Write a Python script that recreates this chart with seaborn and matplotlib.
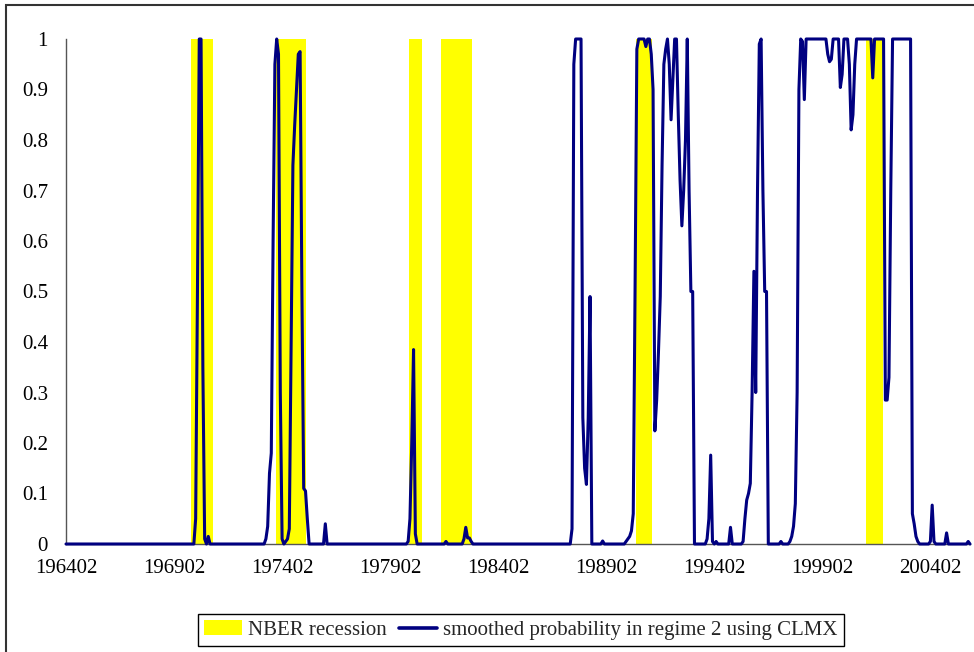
import numpy as np
import pandas as pd
import matplotlib
matplotlib.use("Agg")
import matplotlib.pyplot as plt
import seaborn as sns
from matplotlib.patches import Patch, Rectangle
from matplotlib.lines import Line2D

# ---------------- data ----------------
first_month = "1964-02"
last_month = "2005-12"

# NBER recession months (peak .. trough), drawn as full-height columns
recessions = [("1969-12", "1970-11"), ("1973-11", "1975-03"), ("1980-01", "1980-07"),
              ("1981-07", "1982-11"), ("1990-07", "1991-03"), ("2001-03", "2001-11")]

# smoothed probability of regime 2: months not listed are 0
ep_1970 = ("1970-02", [0.05, 0.5, 1.0, 1.0, 0.35, 0.01, 0.0, 0.015])
ep_1973 = ("1973-05", [0.01, 0.035, 0.14, 0.18, 0.6, 0.95, 1.0, 0.97, 0.3, 0.01, 0.0, 0.005,
                       0.01, 0.03, 0.4, 0.75, 0.83, 0.9, 0.97, 0.975, 0.5, 0.11, 0.105, 0.05])
ep_1976 = ("1976-02", [0.04])
ep_1979 = ("1979-12", [0.005, 0.05, 0.2, 0.385, 0.02])
ep_1981 = ("1981-09", [0.005])
ep_1982 = ("1982-07", [0.01, 0.033, 0.012, 0.012, 0.005])
ep_1987 = ("1987-07", [0.03, 0.95, 1.0, 1.0, 1.0, 1.0, 0.25, 0.15, 0.118, 0.25, 0.49])
ep_1988 = ("1988-12", [0.006])
ep_1990 = ("1990-01", [0.005, 0.01, 0.015, 0.026, 0.06, 0.5, 0.98, 1.0, 1.0, 1.0, 1.0, 0.985,
                       1.0, 1.0, 0.97, 0.9, 0.224, 0.285, 0.38, 0.49, 0.75, 0.95, 0.98, 1.0,
                       0.95, 0.84, 0.92, 1.0, 1.0, 0.85, 0.72, 0.63, 0.7, 0.8, 1.0, 0.7, 0.5, 0.5])
ep_1993 = ("1993-10", [0.01, 0.05, 0.176, 0.005])
ep_1994 = ("1994-03", [0.005])
ep_1994b = ("1994-11", [0.033])
ep_1995 = ("1995-06", [0.005, 0.05, 0.087, 0.1, 0.12, 0.3, 0.54, 0.3, 0.7, 0.99, 1.0, 0.7, 0.5, 0.5])
ep_1997 = ("1997-03", [0.005])
ep_1997b = ("1997-08", [0.005, 0.015, 0.035, 0.08, 0.3, 0.9, 1.0, 0.995, 0.88, 1.0,
                        1.0, 1.0, 1.0, 1.0, 1.0, 1.0, 1.0, 1.0, 1.0, 1.0, 1.0,
                        0.97, 0.955, 0.96, 1.0, 1.0, 1.0, 1.0, 0.904, 0.93, 1.0, 1.0, 1.0,
                        0.95, 0.82, 0.85, 0.95, 1.0, 1.0, 1.0, 1.0, 1.0, 1.0, 1.0, 1.0, 1.0,
                        0.923, 1.0, 1.0, 1.0, 1.0, 1.0, 1.0, 0.285, 0.285, 0.33, 0.7,
                        1.0, 1.0, 1.0, 1.0, 1.0, 1.0, 1.0, 1.0, 1.0, 1.0, 1.0,
                        0.06, 0.04, 0.015, 0.005])
ep_2004 = ("2004-02", [0.005, 0.077, 0.005])
ep_2004b = ("2004-11", [0.022])
ep_2005 = ("2005-11", [0.005])
episodes = [ep_1970, ep_1973, ep_1976, ep_1979, ep_1981, ep_1982, ep_1987, ep_1988, ep_1990,
            ep_1993, ep_1994, ep_1994b, ep_1995, ep_1997, ep_1997b, ep_2004, ep_2004b, ep_2005]

tick_every = 60  # label every 5 years

legend_labels = ["NBER recession", "smoothed probability in regime 2 using CLMX"]

# ---------------- assemble ----------------
months = pd.period_range(first_month, last_month, freq="M")
n = len(months)
start = months[0]
prob = np.zeros(n)
for m, vals in episodes:
    i = (pd.Period(m, "M") - start).n
    prob[i:i + len(vals)] = vals
nber = np.zeros(n)
for a, b in recessions:
    i = (pd.Period(a, "M") - start).n
    j = (pd.Period(b, "M") - start).n
    nber[i:j + 1] = 1.0

df = pd.DataFrame({"idx": np.arange(n), "label": months.strftime("%Y%m"),
                   "nber": nber, "prob": prob})

# ---------------- plot ----------------
sns.set_theme(style="white")
plt.rcParams["font.family"] = ["Liberation Serif", "DejaVu Serif"]

W, H = 974, 652
fig = plt.figure(figsize=(W / 100, H / 100), dpi=100)
ax = fig.add_axes([66 / W, 1 - 544 / H, (970 - 66) / W, (544 - 39) / H])

navy = "#000080"
yellow = "#FFFF00"

rec = df[df["nber"] > 0]
ax.bar(rec["idx"], rec["nber"], width=1.0, color=yellow, linewidth=0, zorder=1)
sns.lineplot(data=df, x="idx", y="prob", color=navy, linewidth=2.2, ax=ax, zorder=3)
for ln in ax.lines:
    ln.set_clip_on(False)
    ln.set_solid_joinstyle("round")

ax.set_xlim(0, n - 1)
ax.set_ylim(0, 1)
xt = df["idx"].values[::tick_every]
ax.set_xticks(xt)
ax.set_xticklabels(df["label"].values[::tick_every], fontsize=15)
yt = np.round(np.arange(0, 1.01, 0.1), 1)
ax.set_yticks(yt)
ax.set_yticklabels([f"{v:g}" for v in yt], fontsize=15)
ax.set_xlabel("")
ax.set_ylabel("")

for s in ["top", "right"]:
    ax.spines[s].set_visible(False)
for s in ["left", "bottom"]:
    ax.spines[s].set_color("#555555")
    ax.spines[s].set_linewidth(1.0)
ax.tick_params(axis="both", direction="out", length=5, width=1.0, color="#555555",
               labelcolor="black")
ax.tick_params(axis="x", pad=6)
ax.tick_params(axis="y", pad=8)
ax.grid(False)

handles = [Patch(facecolor=yellow, edgecolor="none"),
           Line2D([], [], color=navy, linewidth=2.6)]
leg = fig.legend(handles, legend_labels, loc="center",
                 bbox_to_anchor=(521 / W, 1 - 630 / H), ncol=2, frameon=True,
                 fancybox=False, edgecolor="black", framealpha=1, fontsize=15,
                 borderpad=0.3, handlelength=1.8, handleheight=0.7,
                 handletextpad=0.3, columnspacing=0.6, borderaxespad=0)
leg.get_frame().set_linewidth(1.0)

# outer chart-area border (visible on top and left)
fig.patches.append(Rectangle((6 / W, -0.1), 1.2, (1 - 5 / H) + 0.1,
                             transform=fig.transFigure, fill=False,
                             edgecolor="#333333", linewidth=1.5))

fig.savefig("out.png", dpi=100)
